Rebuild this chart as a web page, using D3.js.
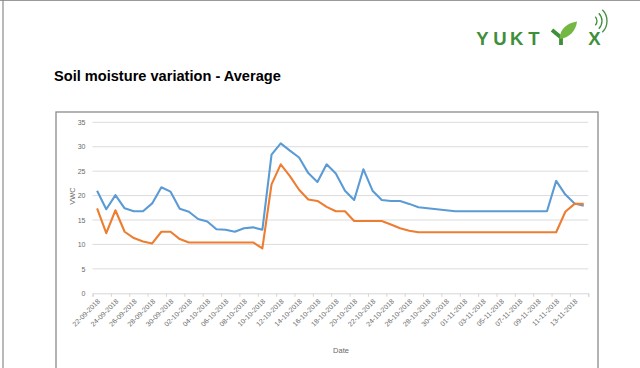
<!DOCTYPE html>
<html>
<head>
<meta charset="utf-8">
<script src="https://cdn.jsdelivr.net/npm/d3@7"></script>
<style>
  html, body { margin: 0; padding: 0; background: #fff; }
  svg { display: block; }
</style>
</head>
<body>
<div id="chart"></div>
<script>
// daily readings, 22-09-2018 .. 14-11-2018
var startDate = "2018-09-22";
var dayCount = 54;

var sensorA = [21.0, 17.2, 20.1, 17.4, 16.8, 16.8, 18.4, 21.7, 20.8, 17.3,
  16.7, 15.2, 14.7, 13.1, 13.0, 12.6, 13.3, 13.5, 13.0, 28.4,
  30.7, 29.2, 27.8, 24.6, 22.8, 26.4, 24.5, 21.0, 19.1, 25.4,
  21.0, 19.1, 18.9, 18.9, 18.3, 17.6, 17.4, 17.2, 17.0, 16.8,
  16.8, 16.8, 16.8, 16.8, 16.8, 16.8, 16.8, 16.8, 16.8, 16.8,
  23.0, 20.2, 18.4, 17.9];

var sensorB = [17.4, 12.3, 17.0, 12.6, 11.3, 10.6, 10.2, 12.6, 12.6, 11.1,
  10.4, 10.4, 10.4, 10.4, 10.4, 10.4, 10.4, 10.4, 9.2, 22.3,
  26.4, 24.0, 21.2, 19.2, 18.9, 17.7, 16.8, 16.8, 14.8, 14.8,
  14.8, 14.8, 14.1, 13.3, 12.8, 12.5, 12.5, 12.5, 12.5, 12.5,
  12.5, 12.5, 12.5, 12.5, 12.5, 12.5, 12.5, 12.5, 12.5, 12.5,
  12.5, 16.7, 18.3, 18.3];

var yTicks = [0, 5, 10, 15, 20, 25, 30, 35];

var W = 640, H = 368;
var fmt = d3.utcFormat("%d-%m-%Y");
var day0 = d3.utcParse("%Y-%m-%d")(startDate);
var dates = d3.range(dayCount).map(function(i) { return d3.utcDay.offset(day0, i); });
var tickDates = d3.range(0, dayCount + 1, 2).map(function(i) { return d3.utcDay.offset(day0, i); });
var tickLabels = dates.filter(function(d, i) { return i % 2 === 0; }).map(fmt);

var svg = d3.select("#chart").append("svg").attr("width", W).attr("height", H);

// page frame
svg.append("line").attr("x1", 0).attr("x2", W).attr("y1", 0.5).attr("y2", 0.5)
  .attr("stroke", "#9a9a9a").attr("stroke-width", 1.2);
svg.append("line").attr("x1", 3).attr("x2", 3).attr("y1", 0).attr("y2", H)
  .attr("stroke", "#8a8a8a").attr("stroke-width", 1.2);

// logo
var logo = svg.append("g").attr("class", "logo");
var green = "#3f8f3a";
logo.selectAll("text").data([["Y", 482.5], ["U", 500], ["K", 516.7], ["T", 534], ["X", 594.5]])
  .enter().append("text")
  .attr("x", function(d) { return d[1]; }).attr("y", 45)
  .attr("text-anchor", "middle")
  .attr("font-family", "Liberation Sans, Arial, sans-serif")
  .attr("font-weight", "bold").attr("font-size", 18.5)
  .attr("fill", green)
  .text(function(d) { return d[0]; });
// sprout in place of the I
logo.append("path").attr("d", "M561,45 L561,37.5 L552,30")
  .attr("fill", "none").attr("stroke", green).attr("stroke-width", 3.8).attr("stroke-linejoin", "round");
logo.append("path").attr("d", "M559.5,39 C560,28 568,23 577,21.5 C576,31 569,38 559.5,39 Z")
  .attr("fill", "#74b843");
[6, 11, 16].forEach(function(r) {
  var cx = 591, cy = 21;
  var a0 = 45 * Math.PI / 180, a1 = 135 * Math.PI / 180;
  logo.append("path")
    .attr("d", "M" + (cx + r * Math.sin(a0)) + "," + (cy - r * Math.cos(a0)) +
      " A" + r + "," + r + " 0 0 1 " + (cx + r * Math.sin(a1)) + "," + (cy - r * Math.cos(a1)))
    .attr("fill", "none").attr("stroke", green).attr("stroke-width", 1.3);
});

// title
svg.append("text").attr("x", 54).attr("y", 81)
  .attr("font-family", "Liberation Sans, Arial, sans-serif")
  .attr("font-weight", "bold").attr("font-size", 14.6).attr("fill", "#000")
  .text("Soil moisture variation - Average");

// chart box
svg.append("rect").attr("x", 56).attr("y", 112).attr("width", 542).attr("height", 270)
  .attr("fill", "#fff").attr("stroke", "#8a8a8a").attr("stroke-width", 1.3);

var x = d3.scaleUtc().domain([day0, d3.utcDay.offset(day0, dayCount)]).range([92.5, 588.3]);
var y = d3.scaleLinear().domain([0, 35]).range([293.3, 122.3]);
var mid = function(d) { return x(d3.utcHour.offset(d, 12)); };

var fontSmall = "Liberation Sans, Arial, sans-serif";

// gridlines
svg.append("g").selectAll("line").data(yTicks.slice(1)).enter().append("line")
  .attr("x1", x.range()[0]).attr("x2", x.range()[1])
  .attr("y1", function(d) { return y(d); }).attr("y2", function(d) { return y(d); })
  .attr("stroke", "#dcdcdc").attr("stroke-width", 1);

// y axis labels
var yAxis = svg.append("g").attr("transform", "translate(" + x.range()[0] + ",0)")
  .call(d3.axisLeft(y).tickValues(yTicks).tickSize(0).tickPadding(7));
yAxis.select(".domain").remove();
yAxis.selectAll("text").attr("font-family", fontSmall).attr("font-size", 7).attr("fill", "#6a6a6a");

// x axis: tick marks at every other day boundary
var xAxis = svg.append("g").attr("transform", "translate(0," + y(0) + ")")
  .call(d3.axisBottom(x).tickValues(tickDates).tickSize(3.5).tickFormat(""));
xAxis.select(".domain").attr("stroke", "#d6d6d6");
xAxis.selectAll(".tick line").attr("stroke", "#d6d6d6");

// rotated date labels, centred on their day slot
svg.append("g").selectAll("text").data(tickLabels).enter().append("text")
  .attr("transform", function(d, i) {
    return "translate(" + (mid(dates[i * 2]) + 2) + "," + (y(0) + 7) + ") rotate(-45)";
  })
  .attr("text-anchor", "end").attr("dy", "0.3em")
  .attr("font-family", fontSmall).attr("font-size", 7).attr("fill", "#6a6a6a")
  .text(function(d) { return d; });

// axis titles
svg.append("text").attr("transform", "translate(75,196) rotate(-90)")
  .attr("text-anchor", "middle")
  .attr("font-family", fontSmall).attr("font-size", 7.5).attr("fill", "#6a6a6a")
  .text("VWC");
svg.append("text").attr("x", 341).attr("y", 353).attr("text-anchor", "middle")
  .attr("font-family", fontSmall).attr("font-size", 7.5).attr("fill", "#6a6a6a")
  .text("Date");

// series
var line = d3.line()
  .x(function(d, i) { return mid(dates[i]); })
  .y(function(d) { return y(d); });

svg.append("path").datum(sensorA).attr("d", line)
  .attr("fill", "none").attr("stroke", "#5b9bd5").attr("stroke-width", 2.1)
  .attr("stroke-linejoin", "round");
svg.append("path").datum(sensorB).attr("d", line)
  .attr("fill", "none").attr("stroke", "#ed7d31").attr("stroke-width", 2.1)
  .attr("stroke-linejoin", "round");
</script>
</body>
</html>
